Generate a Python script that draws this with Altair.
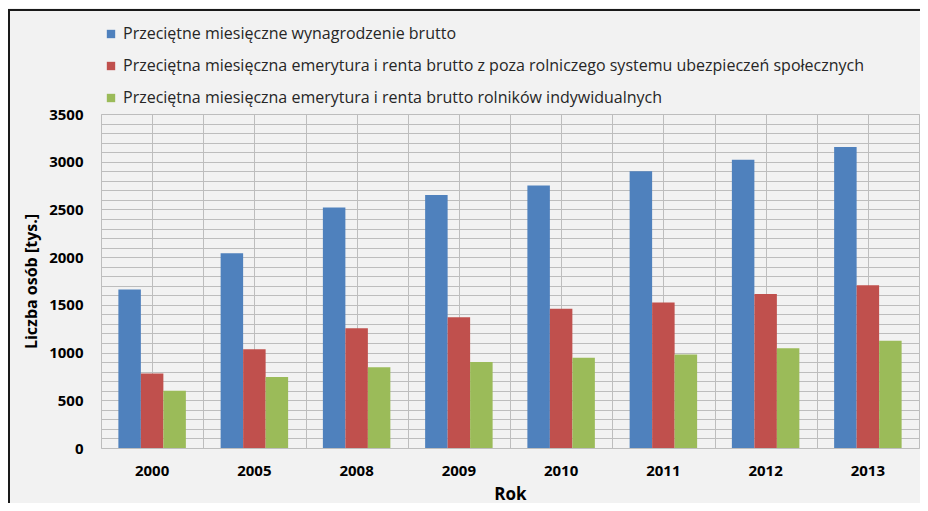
import altair as alt
import pandas as pd

years = ["2000", "2005", "2008", "2009", "2010", "2011", "2012", "2013"]
series = [
    "Przeciętne miesięczne wynagrodzenie brutto",
    "Przeciętna miesięczna emerytura i renta brutto z poza rolniczego systemu ubezpieczeń społecznych",
    "Przeciętna miesięczna emerytura i renta brutto rolników indywidualnych",
]
wages = [1660, 2040, 2520, 2650, 2750, 2900, 3020, 3155]
pension_zus = [780, 1035, 1255, 1370, 1460, 1525, 1615, 1705]
pension_krus = [600, 745, 845, 900, 945, 980, 1045, 1125]
colors = ["#4F81BD", "#C0504D", "#9BBB59"]
y_ticks = list(range(0, 3600, 100))
x_grid = [i / 2 for i in range(1, 16)]

rows = []
for s, vals in zip(series, [wages, pension_zus, pension_krus]):
    for y, v in zip(years, vals):
        rows.append({"Rok": y, "Seria": s, "Wartosc": v})
df = pd.DataFrame(rows)

FONT = "Open Sans"

bars = alt.Chart(df).mark_bar().encode(
    x=alt.X("Rok:N", sort=years,
            scale=alt.Scale(paddingInner=0.34, paddingOuter=0.17),
            axis=alt.Axis(title="Rok", labelAngle=0, ticks=False, domain=False, grid=False,
                          labelFont=FONT, labelFontSize=15, labelFontWeight="bold",
                          labelColor="#000000", labelPadding=15,
                          titleFont=FONT, titleFontSize=17, titleFontWeight="bold",
                          titleColor="#000000", titlePadding=8)),
    xOffset=alt.XOffset("Seria:N", sort=series, scale=alt.Scale(paddingInner=0, paddingOuter=0)),
    y=alt.Y("Wartosc:Q",
            scale=alt.Scale(domain=[0, 3500], nice=False),
            axis=alt.Axis(title="Liczba osób [tys.]", values=y_ticks, format="d",
                          labelExpr="datum.value % 500 == 0 ? datum.label : ''",
                          ticks=False, domain=False, grid=True,
                          gridColor="#bdbdbd", gridWidth=1,
                          labelFont=FONT, labelFontSize=15, labelFontWeight="bold",
                          labelColor="#000000", labelPadding=18,
                          titleFont=FONT, titleFontSize=16, titleFontWeight="bold",
                          titleColor="#000000", titlePadding=9)),
    color=alt.Color("Seria:N", sort=series,
                    scale=alt.Scale(domain=series, range=colors),
                    legend=alt.Legend(title=None, orient="none", legendX=2, legendY=-88,
                                      direction="vertical", symbolType="square",
                                      symbolSize=70, symbolStrokeWidth=0,
                                      labelFont=FONT, labelFontSize=16, labelColor="#262626",
                                      labelLimit=1000, rowPadding=16, labelOffset=4)),
)

vgrid = alt.Chart(df).mark_rule(opacity=0).encode(
    x=alt.X(datum=0, type="quantitative",
            scale=alt.Scale(domain=[0, 8], nice=False),
            axis=alt.Axis(values=x_grid, grid=True, gridColor="#bdbdbd", gridWidth=1,
                          labels=False, ticks=False, domain=False, title=None, orient="top")),
)

frame_v = alt.Chart(df).mark_rule(color="#1a1a1a", strokeWidth=2).encode(
    x=alt.value(-92), y=alt.value(-104), y2=alt.value(420))
frame_h = alt.Chart(df).mark_rule(color="#1a1a1a", strokeWidth=2).encode(
    x=alt.value(-93), x2=alt.value(900), y=alt.value(-104))

chart = alt.layer(vgrid, bars, frame_v, frame_h).resolve_scale(
    x="independent"
).properties(
    width=818, height=334,
    padding={"left": 93, "top": 106, "right": 1, "bottom": 55},
    autosize=alt.AutoSizeParams(type="none"),
    background="#f2f2f2",
).configure_view(stroke="#bdbdbd", strokeWidth=1)

chart.save("out.html", embed_options={"renderer": "svg", "actions": False})
